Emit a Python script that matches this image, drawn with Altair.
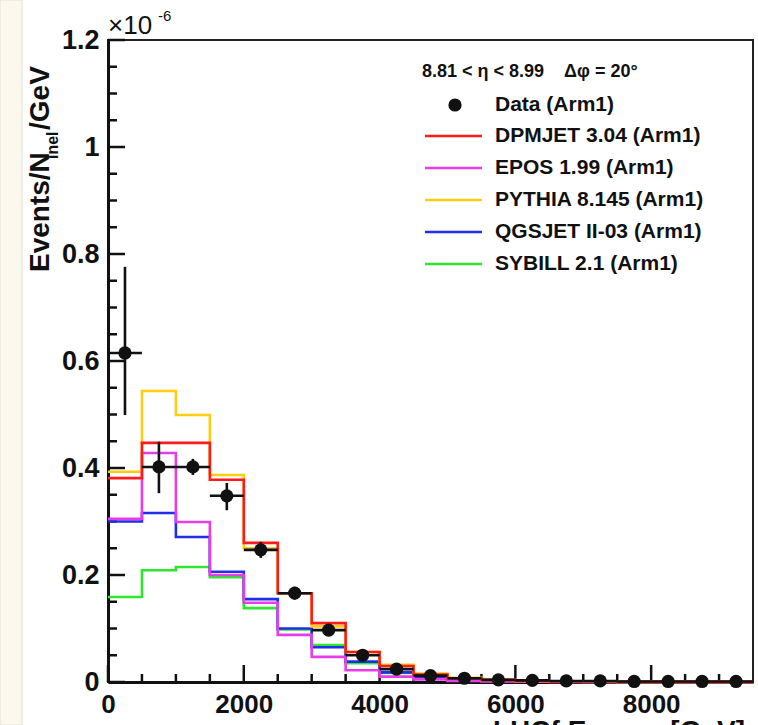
import altair as alt
import pandas as pd

# Energy bins [GeV] and measured spectrum (units of 1e-6 / GeV)
bin_edges = [0, 500, 1000, 1500, 2000, 2500, 3000, 3500, 4000, 4500, 5000,
             5500, 6000, 6500, 7000, 7500, 8000, 8500, 9000, 9500]
bin_centers = [250, 750, 1250, 1750, 2250, 2750, 3250, 3750, 4250, 4750,
               5250, 5750, 6250, 6750, 7250, 7750, 8250, 8750, 9250]

data_val = [0.615, 0.402, 0.402, 0.348, 0.247, 0.166, 0.097, 0.050, 0.024, 0.012,
            0.007, 0.004, 0.003, 0.002, 0.002, 0.001, 0.001, 0.001, 0.001]
data_hi = [0.776, 0.449, 0.417, 0.372, 0.262, 0.178, 0.106, 0.056, 0.028, 0.015,
           0.009, 0.005, 0.004, 0.003, 0.003, 0.002, 0.002, 0.002, 0.002]
data_lo = [0.499, 0.353, 0.387, 0.321, 0.232, 0.154, 0.088, 0.044, 0.020, 0.009,
           0.005, 0.003, 0.002, 0.001, 0.001, 0.000, 0.000, 0.000, 0.000]

# Model predictions per bin
dpmjet = [0.381, 0.447, 0.447, 0.378, 0.260, 0.166, 0.110, 0.056, 0.030, 0.014,
          0.007, 0.004, 0.002, 0.001, 0.001, 0.0005, 0.0003, 0.0002, 0.0001]
epos = [0.305, 0.428, 0.299, 0.200, 0.148, 0.088, 0.047, 0.022, 0.010, 0.005,
        0.002, 0.001, 0.0005, 0.0003, 0.0002, 0.0001, 0.0001, 0.0, 0.0]
pythia = [0.393, 0.544, 0.499, 0.387, 0.250, 0.166, 0.104, 0.056, 0.032, 0.016,
          0.008, 0.004, 0.002, 0.001, 0.0005, 0.0003, 0.0002, 0.0001, 0.0001]
qgsjet = [0.300, 0.316, 0.271, 0.206, 0.155, 0.100, 0.065, 0.038, 0.018, 0.009,
          0.004, 0.002, 0.001, 0.0005, 0.0003, 0.0002, 0.0001, 0.0, 0.0]
sybill = [0.159, 0.209, 0.215, 0.196, 0.138, 0.098, 0.069, 0.035, 0.017, 0.008,
          0.004, 0.002, 0.001, 0.0005, 0.0003, 0.0002, 0.0001, 0.0, 0.0]

model_names = ["DPMJET 3.04 (Arm1)", "EPOS 1.99 (Arm1)", "PYTHIA 8.145 (Arm1)",
               "QGSJET II-03 (Arm1)", "SYBILL 2.1 (Arm1)"]
model_values = [dpmjet, epos, pythia, qgsjet, sybill]
model_colors = ["#ff1a1a", "#e83ce8", "#ffcc11", "#1f2ee8", "#2ee62e"]
draw_order = [4, 3, 1, 2, 0]

y_major = [0, 0.2, 0.4, 0.6, 0.8, 1.0, 1.2]
y_minor = [0.05, 0.1, 0.15, 0.25, 0.3, 0.35, 0.45, 0.5, 0.55, 0.65, 0.7, 0.75,
           0.85, 0.9, 0.95, 1.05, 1.1, 1.15]
x_major = [0, 2000, 4000, 6000, 8000]
x_minor = [500, 1000, 1500, 2500, 3000, 3500, 4500, 5000, 5500, 6500, 7000,
           7500, 8500, 9000]

W, H = 645, 642
FONT = "Liberation Sans"
NBSP = "\u00a0"

xs = alt.Scale(domain=[0, 9500], nice=False, zero=False)
ys = alt.Scale(domain=[0, 1.2], nice=False, zero=False)

layers = []

# left margin strip
layers.append(
    alt.Chart(pd.DataFrame({"a": [0]})).mark_rect(
        fill="#fcf8ee", stroke="#e4e0d6", strokeWidth=1
    ).encode(x=alt.value(-108), x2=alt.value(-86), y=alt.value(-40), y2=alt.value(H + 43))
)

# axes carrying labels only; ticks are drawn inward below
axis_base = alt.Chart(pd.DataFrame({"x": [0, 9500], "y": [0, 1.2]})).mark_point(opacity=0).encode(
    x=alt.X("x:Q", scale=xs, title=None,
            axis=alt.Axis(values=x_major, format="d", ticks=False, labelPadding=9,
                          labelFontSize=26, labelFontWeight="bold", labelFont=FONT,
                          labelColor="#111", domainWidth=3, domainColor="#111",
                          grid=False, labelFlush=False)),
    y=alt.Y("y:Q", scale=ys, title=None,
            axis=alt.Axis(values=y_major, labelExpr="format(datum.value, '.1~f')",
                          ticks=False, labelPadding=9, labelFontSize=27,
                          labelFontWeight="bold", labelFont=FONT, labelColor="#111",
                          domainWidth=3, domainColor="#111", grid=False,
                          labelFlush=False)),
)
layers.append(axis_base)

# inward tick marks
def yticks(vals, length):
    return alt.Chart(pd.DataFrame({"v": vals})).mark_rule(color="#111", strokeWidth=2.5).encode(
        y=alt.Y("v:Q", scale=ys), x=alt.value(0), x2=alt.value(length))

def xticks(vals, length):
    return alt.Chart(pd.DataFrame({"v": vals})).mark_rule(color="#111", strokeWidth=2.5).encode(
        x=alt.X("v:Q", scale=xs), y=alt.value(H), y2=alt.value(H - length))

layers += [yticks(y_major, 17), yticks(y_minor, 9), xticks(x_major, 17), xticks(x_minor, 8)]

# model histograms drawn as steps
for i in draw_order:
    vals = model_values[i]
    df = pd.DataFrame({"x": bin_edges, "y": vals + [vals[-1]]})
    layers.append(
        alt.Chart(df).mark_line(interpolate="step-after", color=model_colors[i],
                                strokeWidth=2.6).encode(
            x=alt.X("x:Q", scale=xs), y=alt.Y("y:Q", scale=ys))
    )

# measured data with error bars
ddf = pd.DataFrame({"x": bin_centers, "y": data_val, "lo": data_lo, "hi": data_hi,
                    "xl": [c - 250 for c in bin_centers], "xh": [c + 250 for c in bin_centers]})
layers.append(alt.Chart(ddf).mark_rule(color="#111", strokeWidth=2.6).encode(
    x=alt.X("x:Q", scale=xs), y=alt.Y("lo:Q", scale=ys), y2="hi:Q"))
layers.append(alt.Chart(ddf).mark_rule(color="#111", strokeWidth=2.6).encode(
    x=alt.X("xl:Q", scale=xs), x2="xh:Q", y=alt.Y("y:Q", scale=ys)))
layers.append(alt.Chart(ddf).mark_circle(color="#111", opacity=1, size=175).encode(
    x=alt.X("x:Q", scale=xs), y=alt.Y("y:Q", scale=ys)))

# legend
def text_at(txt, x, y, size, align="left", baseline="middle", angle=0, weight="bold"):
    return alt.Chart(pd.DataFrame({"t": [txt]})).mark_text(
        align=align, baseline=baseline, fontSize=size, font=FONT, fontWeight=weight,
        color="#111", angle=angle
    ).encode(text="t:N", x=alt.value(x), y=alt.value(y))

header = "8.81 < \u03b7 < 8.99" + NBSP * 4 + "\u0394\u03c6 = 20\u00b0"
layers.append(text_at(header, 314, 32, 18))
layers.append(alt.Chart(pd.DataFrame({"a": [0]})).mark_circle(color="#111", opacity=1, size=175).encode(
    x=alt.value(347), y=alt.value(65)))
layers.append(text_at("Data (Arm1)", 387, 65, 21))
for k, (name, col) in enumerate(zip(model_names, model_colors)):
    yy = 96 + 32 * k
    layers.append(alt.Chart(pd.DataFrame({"a": [0]})).mark_rule(color=col, strokeWidth=2.6).encode(
        x=alt.value(317), x2=alt.value(374), y=alt.value(yy)))
    layers.append(text_at(name, 387, yy, 21))

# axis titles and exponent
layers.append(text_at("Events/N", -67, 232, 28, angle=270))
layers.append(text_at("inel", -55, 119, 16, angle=270))
layers.append(text_at("/GeV", -67, 90, 28, angle=270))
layers.append(text_at("\u00d710", 0, -14, 26, weight="normal"))
layers.append(text_at("-6", 50, -24, 15, weight="normal"))
layers.append(text_at("LHCf Energy [GeV]", 385, H + 36, 28, baseline="top"))

chart = alt.layer(*layers).properties(
    width=W, height=H,
    autosize=alt.AutoSizeParams(type="none"),
    padding={"left": 108, "top": 40, "right": 5, "bottom": 43},
    background="white",
).configure_view(stroke="#222", strokeWidth=2)

chart.save("out.html", embed_options={"renderer": "svg", "actions": False})
